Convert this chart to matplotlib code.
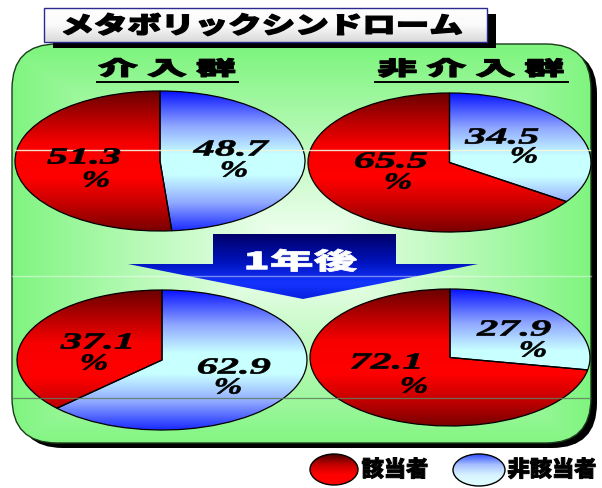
import numpy as np
import matplotlib
matplotlib.use("Agg")
import matplotlib.pyplot as plt
from matplotlib.patches import FancyBboxPatch, Rectangle, Polygon, Ellipse
from matplotlib.colors import LinearSegmentedColormap
from matplotlib.patheffects import AbstractPathEffect
from matplotlib.transforms import Affine2D

W, H = 602, 489

title = "メタボリックシンドローム"
group_names = ["介 入 群", "非 介 入 群"]
arrow_label = "1年後"
legend_labels = ["該当者", "非該当者"]

# share (%) of 該当者 / 非該当者
intervention_before = [51.3, 48.7]
control_before = [65.5, 34.5]
intervention_after = [37.1, 62.9]
control_after = [72.1, 27.9]

JP = "Noto Sans CJK JP"
SERIF = "Liberation Serif"


class Stretch(AbstractPathEffect):
    """Scale glyph outlines about their own centre, optionally thickened."""

    def __init__(self, sx=1.0, sy=1.0, lw=0.0):
        super().__init__()
        self.sx, self.sy, self.lw = sx, sy, lw

    def draw_path(self, renderer, gc, tpath, affine, rgbFace=None):
        bb = tpath.get_extents(affine)
        cx, cy = (bb.x0 + bb.x1) / 2, (bb.y0 + bb.y1) / 2
        t = (Affine2D(affine.get_matrix().copy())
             .translate(-cx, -cy).scale(self.sx, self.sy).translate(cx, cy))
        if self.lw > 0 and rgbFace is not None:
            gc0 = renderer.new_gc()
            gc0.copy_properties(gc)
            gc0.set_linewidth(self.lw)
            gc0.set_foreground(rgbFace)
            gc0.set_joinstyle("round")
            renderer.draw_path(gc0, tpath, t, rgbFace)
            gc0.restore()
        else:
            renderer.draw_path(gc, tpath, t, rgbFace)


def cmap_of(stops):
    return LinearSegmentedColormap.from_list("g", stops)


def vgrad(ax, patch, cmap, extent, zorder, origin="upper", n=256):
    arr = np.linspace(0, 1, n)[:, None] * np.ones((1, 4))
    im = ax.imshow(arr, cmap=cmap, extent=extent, origin=origin,
                   aspect="auto", zorder=zorder, interpolation="bilinear")
    im.set_clip_path(patch)
    return im


fig = plt.figure(figsize=(W / 100, H / 100), dpi=100)
fig.patch.set_facecolor("white")

# ---------- background layer ----------
ax = fig.add_axes([0, 0, 1, 1])
ax.set_zorder(1)

# green panel with drop shadow
px0, py0, pw, ph = 12, 45, 579, 399
shadow = FancyBboxPatch((px0 + 6, py0 + 5), pw, ph,
                        boxstyle="round,pad=0,rounding_size=45",
                        fc="black", ec="none", zorder=1)
ax.add_patch(shadow)
panel = FancyBboxPatch((px0, py0), pw, ph,
                       boxstyle="round,pad=0,rounding_size=45",
                       fc="none", ec="#1c3a1c", lw=1.0, zorder=3)
ax.add_patch(panel)
xs = np.linspace(px0, px0 + pw, 300)
ys = np.linspace(py0, py0 + ph, 240)
X, Y = np.meshgrid(xs, ys)
u = (X - 301) / 289
v = (Y - 250) / 199
t = np.clip(np.maximum(np.abs(u), np.abs(v)), 0, 1) ** 1.1
c_in = np.array([0.96, 1.0, 0.96])
c_out = np.array([0.50, 0.96, 0.50])
rgb = c_in[None, None, :] * (1 - t[..., None]) + c_out[None, None, :] * t[..., None]
im = ax.imshow(rgb, extent=(px0, px0 + pw, py0 + ph, py0), origin="upper",
               aspect="auto", zorder=2, interpolation="bilinear")
im.set_clip_path(panel)

# title box
ax.add_patch(Rectangle((53, 15), 443, 34, fc="black", ec="none", zorder=4))
tbox = Rectangle((44, 9), 443, 34, fc="none", ec="#2a2a90", lw=1.0, zorder=6)
ax.add_patch(tbox)
vgrad(ax, tbox, cmap_of(["#ffffff", "#fafafa", "#d9d9d9"]),
      (44, 487, 43, 9), zorder=5)
ax.text(262, 27, title, fontsize=17, family=[JP, "DejaVu Sans"],
        fontweight="black", ha="center", va="center", zorder=7,
        path_effects=[Stretch(1.42, lw=1.0)])

# group headings
for name, cx, (ux0, ux1) in zip(group_names, [167, 471], [(97, 238), (375, 568)]):
    ax.text(cx, 70.5, name, fontsize=14, family=[JP, "DejaVu Sans"],
            fontweight="black", ha="center", va="center", zorder=7,
            path_effects=[Stretch(2.05, lw=0.9)])
    ax.plot([ux0, ux1], [82.5, 82.5], color="black", lw=1.4, zorder=7)

# downward block arrow
arrow = Polygon([(213, 235), (396, 235), (396, 265), (478, 265),
                 (303, 300), (128, 265), (213, 265)],
                closed=True, fc="none", ec="none", zorder=6)
ax.add_patch(arrow)
vgrad(ax, arrow, cmap_of([(0.0, "#000068"), (0.45, "#0014c0"),
                          (0.75, "#1434ff"), (1.0, "#0820e0")]),
      (128, 478, 300, 235), zorder=5)
ax.text(301, 263, arrow_label, fontsize=17, family=[JP, "DejaVu Sans"],
        fontweight="black", color="white", ha="center", va="center",
        zorder=7, path_effects=[Stretch(1.85, lw=0.6)])

# legend
leg_red = Ellipse((334, 470.5), 48, 31, fc="none", ec="black", lw=1.0, zorder=8)
ax.add_patch(leg_red)
vgrad(ax, leg_red, cmap_of(["#4a0000", "#c00000", "#ff0000", "#ff0000"]),
      (310, 358, 486, 455), zorder=7)
leg_blue = Ellipse((479, 471), 52, 32, fc="none", ec="black", lw=1.0, zorder=8)
ax.add_patch(leg_blue)
vgrad(ax, leg_blue, cmap_of(["#3050ff", "#a8c0ff", "#d8f4ff", "#e0ffff"]),
      (453, 505, 487, 455), zorder=7)
for lab, lx in zip(legend_labels, [395, 552]):
    ax.text(lx, 471, lab, fontsize=16, family=[JP, "DejaVu Sans"],
            fontweight="black", ha="center", va="center", zorder=8,
            path_effects=[Stretch(1.0, lw=0.7)])

ax.set_xlim(0, W)
ax.set_ylim(H, 0)
ax.axis("off")

# ---------- pies ----------
red_cmap = cmap_of([(0.0, "#6a0000"), (0.22, "#c00000"), (0.38, "#f80000"),
                    (0.62, "#ff0000"), (0.8, "#c80000"), (1.0, "#7a0000")])
blue_cmap = cmap_of([(0.0, "#0a14ff"), (0.25, "#90a8ff"), (0.45, "#c8ffff"),
                     (0.6, "#c8ffff"), (0.8, "#90a8ff"), (1.0, "#1a2aff")])

pies = [
    (intervention_before, (15, 92, 305, 232),
     [(84, 159, 96, 182), (231, 151, 234, 172)]),
    (control_before, (308, 94, 591, 233),
     [(391, 163, 398, 184), (502, 139, 524, 158)]),
    (intervention_after, (17, 291, 307, 431),
     [(97, 344, 94, 365), (234, 369, 228, 389)]),
    (control_after, (310, 290, 590, 427),
     [(386, 364, 414, 388), (514, 331, 533, 352)]),
]

ov = fig.add_axes([0, 0, 1, 1])
ov.set_zorder(3)
ov.patch.set_visible(False)

for vals, (x0, y0, x1, y1), label_pos in pies:
    pax = fig.add_axes([x0 / W, 1 - y1 / H, (x1 - x0) / W, (y1 - y0) / H])
    pax.set_zorder(2)
    wedges, _ = pax.pie(vals, colors=["#ff0000", "#c8ffff"], startangle=90,
                        counterclock=True,
                        wedgeprops=dict(edgecolor="black", linewidth=0.9))
    for w, cm in zip(wedges, [red_cmap, blue_cmap]):
        w.set_facecolor("none")
        w.set_clip_on(False)
        w.set_zorder(3)
        vgrad(pax, w, cm, (-1, 1, -1, 1), zorder=1)
    pax.set_aspect("auto")
    pax.set_xlim(-1, 1)
    pax.set_ylim(-1, 1)
    pax.axis("off")
    pax.patch.set_visible(False)
    for val, (nx, ny, qx, qy) in zip(vals, label_pos):
        ov.text(nx, ny, f"{val:.1f}", fontsize=16.5, family=SERIF,
                fontweight="bold", fontstyle="italic", ha="center",
                va="center", path_effects=[Stretch(1.85, lw=0.5)])
        ov.text(qx, qy, "%", fontsize=16.5, family=SERIF, fontweight="bold",
                fontstyle="italic", ha="center", va="center",
                path_effects=[Stretch(1.5, lw=0.5)])

# faint horizontal rules across the panel
ov.plot([15, 590], [151, 151], color="#f4f8d8", lw=1.0, alpha=0.9)
ov.plot([12, 591], [277, 277], color="white", lw=1.0, alpha=0.45)
ov.plot([13, 590], [399, 399], color="#5f7f5f", lw=0.9, alpha=0.85)

ov.set_xlim(0, W)
ov.set_ylim(H, 0)
ov.axis("off")

fig.savefig("out.png", dpi=100)
